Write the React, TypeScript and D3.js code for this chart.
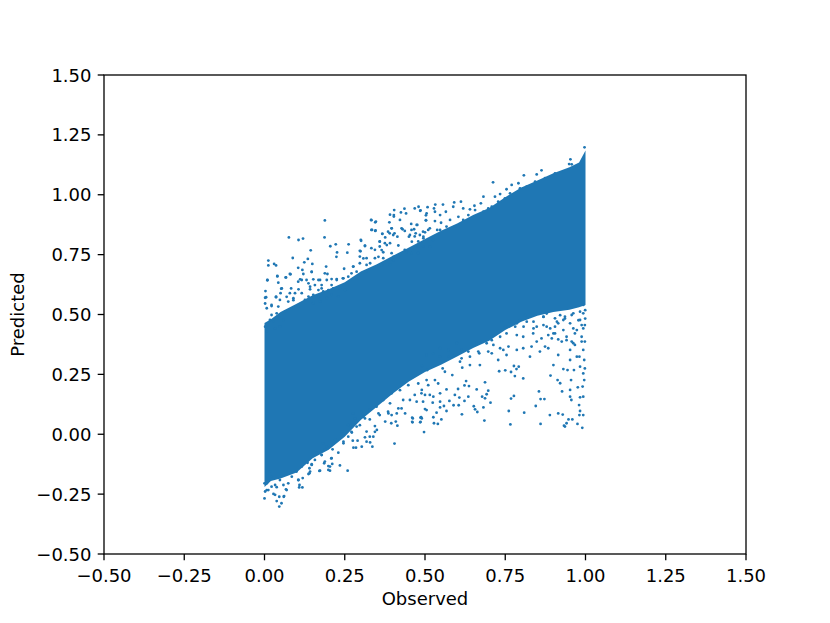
import React from "react";
import * as d3 from "d3";

const tickValues = [-0.5, -0.25, 0, 0.25, 0.5, 0.75, 1, 1.25, 1.5];
const xLabel = "Observed";
const yLabel = "Predicted";

// Dense part of the cloud
const bandObserved = [0, .02, .05, .1, .15, .2, .25, .3, .35, .4, .45, .5, .55, .6, .65, .7, .75, .8, .85, .9, .95, .98, 1];
const bandUpper = [.465, .48, .51, .545, .58, .605, .635, .68, .71, .745, .78, .815, .85, .88, .915, .945, .99, 1.03, 1.06, 1.09, 1.115, 1.135, 1.185];
const bandLower = [-.22, -.195, -.185, -.16, -.1, -.065, -.01, .06, .115, .17, .22, .26, .29, .325, .36, .39, .435, .47, .495, .51, .52, .53, .54];

// Individually visible points above the solid cloud [observed, predicted]
const upperPoints: [number, number][] = [
[.188,.893],[.076,.822],[.106,.811],[.12,.817],[.187,.822],[.012,.725],[.012,.705],[.03,.711],[.036,.705],[.088,.736],[.144,.768],[.205,.785],[.222,.793],[.262,.793],[.301,.808],[.226,.759],[.224,.741],[.258,.758],[.299,.764],[.313,.786],[.333,.894],[.345,.885],[.335,.853],[.345,.849],[.367,.837],[.404,.936],[.391,.917],[.403,.915],[.436,.942],[.425,.926],[.441,.922],[.468,.943],[.48,.95],[.485,.933],[.505,.922],[.503,.894],[.457,.878],[.476,.874],[.396,.86],[.43,.856],[.466,.856],[.39,.839],[.405,.839],[.414,.825],[.45,.825],[.471,.839],[.5,.843],[.376,.822],[.359,.804],[.381,.79],[.459,.804],[.495,.818],[.135,.732],[.124,.718],[.149,.711],[.192,.7],[.105,.695],[.118,.686],[.147,.677],[.081,.668],[.066,.655],[.04,.659],[.009,.643],[.043,.633],[.003,.598],[.002,.57],[.002,.546],[.052,.608],[.036,.572],[.083,.609],[.111,.647],[.152,.647],[.196,.669],[.248,.691],[.277,.7],[.209,.648],[.225,.648],[.246,.651],[.173,.644],[.137,.63],[.142,.605],[.106,.605],[.069,.574],[.178,.609],[.209,.623],[.256,.605],[.168,.574],[.09,.56],[.022,.535],[.007,.526],[.308,.734],[.329,.714],[.365,.769],[.402,.741],[.443,.762],[.479,.783],[.355,.741],
[.712,1.052],[.808,1.081],[.848,1.085],[.863,1.102],[.953,1.148],[.949,1.128],[.957,1.127],[.997,1.198],[.682,.992],[.612,.971],[.591,.968],[.556,.959],[.532,.959],[.508,.948],[.486,.935],[.528,.943],[.503,.914],[.503,.893],[.531,.929],[.565,.929],[.588,.95],[.619,.943],[.64,.939],[.674,.964],[.654,.954],[.547,.915],[.531,.89],[.55,.883],[.578,.895],[.604,.908],[.697,.943],[.718,.992],[.734,1.003],[.754,1.023],[.77,1.041],[.791,1.048],
];

// Fringe of the cloud, upper side
const upperFringe: [number, number][] = [
[.009,.644],[.04,.661],[.067,.655],[.079,.669],[.005,.572],[.022,.54],[.043,.533],[.036,.575],[.054,.609],[.05,.589],[.048,.561],[.079,.589],[.095,.589],[.09,.568],[.074,.554],[.116,.589],[.105,.637],[.116,.644],[.131,.644],[.121,.669],[.147,.679],[.168,.644],[.188,.672],[.194,.644],[.225,.644],[.244,.651],[.261,.658],[.142,.616],[.157,.623],[.178,.623],[.183,.596],[.168,.602],[.152,.582],[.137,.575],[.126,.561],[.199,.602],[.214,.609],[.235,.609],[.251,.602],[.209,.582],[.23,.575],[.194,.568],[.173,.554],[.152,.547],[.105,.533],[.09,.526],[.064,.512],[.038,.505],[.022,.498],[.028,.47],[.017,.477],[.059,.477],[.048,.449],[.033,.442],[.002,.449],[.007,.429],
[.332,.895],[.347,.888],[.333,.853],[.346,.851],[.389,.885],[.403,.909],[.422,.895],[.396,.86],[.385,.846],[.367,.837],[.401,.832],[.391,.798],[.375,.798],[.359,.805],[.359,.784],[.3,.812],[.313,.787],[.297,.766],[.333,.777],[.344,.77],[.37,.76],[.396,.756],[.417,.788],[.427,.86],[.437,.849],[.458,.853],[.474,.874],[.453,.832],[.468,.826],[.484,.832],[.494,.846],[.515,.86],[.538,.853],[.479,.805],[.437,.77],[.458,.756],[.479,.756],[.297,.742],[.318,.735],[.344,.735],[.37,.735],[.401,.728],[.422,.749],[.276,.7],[.297,.714],[.318,.707],[.271,.672],[.287,.679],[.318,.679],[.339,.693],[.365,.707],[.391,.707],
[.495,.825],[.51,.853],[.526,.811],[.547,.853],[.567,.867],[.593,.867],[.619,.895],[.635,.915],[.656,.936],[.682,.929],[.708,.95],[.728,.971],[.749,.985],[.765,1.006],[.796,1.027],[.817,1.034],[.843,1.055],[.874,1.069],[.905,1.089],[.931,1.096],[.972,1.117],[.495,.783],[.516,.783],
];

// Individually visible points below the solid cloud [observed, predicted]
const lowerPoints: [number, number][] = [
[.046,-.302],[.038,-.279],[.053,-.288],[0,-.268],[.028,-.249],[.046,-.261],[.06,-.261],[.007,-.233],[.033,-.212],[.067,-.23],[.108,-.222],[.118,-.222],[.106,-.191],[.119,-.183],[.137,-.166],[.142,-.156],[.171,-.153],[.204,-.152],[.259,-.152],[.235,-.13],[.199,-.133],[.211,-.124],[.186,-.121],[.208,-.101],[.147,-.128],[.134,-.119],[.178,-.087],[.23,-.077],[.277,-.056],[.285,-.056],[.303,-.052],[.336,-.052],[.405,-.039],[.497,.009],[.318,-.031],[.275,-.027],[.246,-.031],[.215,-.038],[.189,-.063],[.329,-.034],[.29,-.027],[.313,-.013],[.339,-.01],[.272,.007],[.318,.011],[.35,.018],[.287,.032],[.376,.053],[.395,.046],[.414,.036],[.409,.053],[.461,.05],[.485,.05],[.462,.066],[.49,.066],[.505,.101],[.438,.087],[.412,.087],[.386,.087],[.355,.087],[.313,.066],[.261,.039],[.241,.011],
[.766,.041],[.86,.043],[.933,.036],[.936,.032],[.99,.027],[.975,.043],[.941,.046],[.959,.062],[.947,.062],[.889,.08],[.915,.087],[.929,.082],[.809,.09],[.761,.097],[.685,.057],[.615,.083],[.526,.071],[.551,.062],[.488,.071],[.54,.043],[.528,.046],[.663,.093],[.656,.104],[.652,.117],[.704,.132],[.682,.112],[.589,.121],[.605,.121],[.567,.097],[.559,.118],[.547,.112],[.536,.09],[.5,.105],[.524,.132],[.547,.136],[.576,.139],[.607,.153],[.623,.139],[.635,.157],[.593,.164],[.678,.157],[.687,.15],[.692,.167],[.697,.182],[.661,.187],[.603,.189],[.623,.204],[.637,.201],[.628,.222],[.687,.217],[.768,.149],[.777,.16],[.845,.118],[.86,.147],[.872,.147],[.855,.179],[.927,.179],[.952,.185],[.952,.157],[.956,.143],[.98,.122],[.983,.097],[.981,.08],[.993,.08],[.983,.154],[.993,.157],[.991,.199],[.976,.196],[.996,.226],[.955,.226],[.913,.226],[.921,.213],[.891,.245],[.806,.233],[.78,.243],[.75,.267],[.768,.26],[.731,.263],[.777,.285],[.792,.282],[.785,.272],[.931,.272],[.944,.268],[.964,.268],[.983,.282],[.998,.275],[.993,.254],[.9,.289],[.952,.31],[.973,.324],[.996,.31],[.915,.331],[.884,.359],[.858,.345],[.827,.324],[.754,.331],[.728,.31],[.64,.289],[.671,.289],[.616,.278],[.585,.247],[.567,.187],[.547,.171],[.5,.164],[.49,.185],[.526,.157],[.555,.275],[.531,.226],[.505,.226],[.49,.286],[.507,.268],[.562,.261],
[.993,.505],[.983,.477],[.998,.456],[.973,.435],[.988,.407],[.998,.387],[.957,.387],[.967,.373],[.941,.407],[.926,.387],[.905,.421],[.895,.4],[.874,.366],[.848,.387],[.786,.352],[.744,.352],[.708,.338],[.669,.338],[.609,.303],[.981,.324],[.993,.352],[.952,.352],[.915,.463],[.962,.505],[.936,.491],[.993,.54],
];

// Fringe of the cloud, lower side
const lowerFringe: [number, number][] = [
[.002,-.239],[.012,-.233],[.033,-.253],[.061,-.258],[.022,-.219],[.038,-.221],[.007,-.205],[0,-.205],[.059,-.212],[.069,-.233],[.074,-.205],[.109,-.212],[.105,-.191],[.14,-.163],[.14,-.142],[.147,-.125],[.173,-.152],[.188,-.114],[.204,-.135],[.199,-.149],[.209,-.1],[.212,-.063],[.178,-.086],[.157,-.107],[.017,-.156],[.022,-.177],[.048,-.191],[.085,-.177],[.1,-.156],[.116,-.135],[.131,-.114],[.163,-.079],[.194,-.052],[.246,-.038],[.261,-.01],[.24,.004],[.22,-.024],[.183,-.038],
[.46,.069],[.46,.052],[.486,.069],[.486,.052],[.344,.034],[.344,.01],[.328,-.01],[.271,.01],[.269,.034],[.297,.038],[.282,.066],[.308,.073],[.328,.062],[.359,.08],[.385,.094],[.396,.08],[.417,.108],[.427,.108],[.391,.129],[.37,.143],[.432,.143],[.453,.143],[.474,.136],[.494,.136],[.468,.164],[.489,.171],[.515,.164],[.541,.212],[.51,.205],[.479,.212],[.448,.205],[.422,.184],[.396,.171],[.349,.115],[.328,.101],[.302,.094],[.276,.087],
[.739,.47],[.765,.47],[.796,.476],[.812,.497],[.838,.47],[.869,.456],[.911,.47],[.936,.483],[.952,.463],[.978,.476],[.988,.456],[.999,.483],[.999,.518],[.921,.497],[.869,.49],[.807,.449],[.838,.442],[.89,.442],[.962,.442],[.75,.449],[.781,.449],[.905,.449],[.879,.504],
[.505,.331],[.526,.338],[.547,.324],[.573,.324],[.593,.331],[.614,.317],[.64,.324],[.614,.352],[.635,.345],[.666,.345],[.697,.345],[.713,.373],[.734,.359],[.76,.366],[.806,.359],[.832,.366],[.786,.414],[.806,.407],[.837,.421],[.863,.4],[.879,.449],[.9,.421],[.931,.435],[.967,.421],[.993,.442],[.941,.393],[.962,.38],[.988,.387],[.915,.396],[.884,.414],[.848,.449],[.817,.47],[.786,.463],[.754,.421],[.734,.407],[.708,.393],[.692,.38],[.661,.38],[.599,.38],[.573,.352],[.547,.359],[.931,.477],[.957,.498],[.983,.512],[.905,.484],[.869,.491],
];

const WIDTH = 830;
const HEIGHT = 623;
const BLUE = "#1f77b4";
const FONT = "'DejaVu Sans', sans-serif";

export default function App() {
  const x = d3.scaleLinear().domain([-0.5, 1.5]).range([104, 746]);
  const y = d3.scaleLinear().domain([-0.5, 1.5]).range([554, 75]);
  const band = d3.area<number>()
    .x((d) => x(d))
    .y0((_, i) => y(bandLower[i]))
    .y1((_, i) => y(bandUpper[i]));
  const fmt = d3.format(".2f");
  const label = (v: number) => fmt(v).replace("-", "\u2212");
  const points = [...upperPoints, ...upperFringe, ...lowerPoints, ...lowerFringe];
  return (
    <svg width={WIDTH} height={HEIGHT} style={{ position: "absolute", left: 0, top: 0, background: "#fff" }} fontFamily={FONT}>
      <path d={band(bandObserved) ?? ""} fill={BLUE} />
      {points.map(([o, p], i) => (
        <circle key={i} cx={x(o)} cy={y(p)} r={1.4} fill={BLUE} />
      ))}
      <rect x={104} y={75} width={642} height={479} fill="none" stroke="#000" strokeWidth={1.3} />
      {tickValues.map((t) => (
        <g key={t}>
          <line x1={x(t)} x2={x(t)} y1={554} y2={560.3} stroke="#000" strokeWidth={1.3} />
          <text x={x(t)} y={581.5} fontSize={18} textAnchor="middle" fill="#000">{label(t)}</text>
          <line x1={97.7} x2={104} y1={y(t)} y2={y(t)} stroke="#000" strokeWidth={1.3} />
          <text x={91.5} y={y(t) + 6.6} fontSize={18} textAnchor="end" fill="#000">{label(t)}</text>
        </g>
      ))}
      <text x={425} y={605} fontSize={18} textAnchor="middle" fill="#000">{xLabel}</text>
      <text transform={`translate(24,314.5) rotate(-90)`} fontSize={18} textAnchor="middle" fill="#000">{yLabel}</text>
    </svg>
  );
}
